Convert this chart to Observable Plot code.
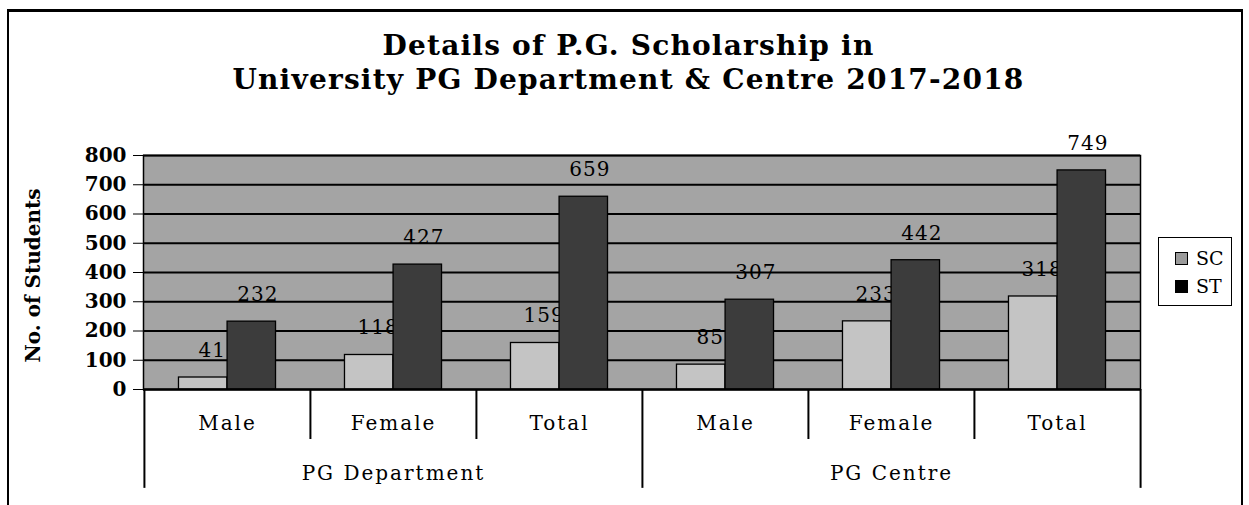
<!DOCTYPE html>
<html>
<head>
<meta charset="utf-8">
<script src="https://cdn.jsdelivr.net/npm/d3@7"></script>
<script src="https://cdn.jsdelivr.net/npm/@observablehq/plot@0.6"></script>
<style>
  html, body { margin: 0; padding: 0; background: #fff; }
  body { width: 1249px; height: 505px; overflow: hidden; position: relative; font-family: "DejaVu Serif", serif; }
  #frame { position: absolute; left: 7px; top: 9px; width: 1232px; height: 530px;
           border-top: 3px solid #000; border-left: 2px solid #000; border-right: 2px solid #000; }
  #title { position: absolute; left: 4px; top: 29px; width: 1249px; text-align: center;
           font: bold 28px/34px "DejaVu Serif", serif; letter-spacing: 1.2px; color: #000; }
  #chart { position: absolute; left: 0; top: 130px; }
  #legend { position: absolute; left: 1158px; top: 237px; width: 72px; height: 67px;
            border: 1.5px solid #000; background: #fff; font: 19px "DejaVu Serif", serif; }
  .item { position: absolute; left: 16px; display: flex; align-items: center; }
  .sw { width: 13px; height: 13px; border: 1px solid #000; box-sizing: border-box; margin-right: 8px; }
  #chart svg .lbl text, #chart svg text.lbl { letter-spacing: 2px; }
  #chart svg .val text, #chart svg text.val { letter-spacing: 1px; }
</style>
</head>
<body>
<div id="frame"></div>
<div id="title">Details of P.G. Scholarship in<br>University PG Department &amp; Centre 2017-2018</div>
<div id="chart"></div>
<div id="legend"></div>
<script>
// ---- data ----
const groups = ["PG Department", "PG Centre"];
const genders = ["Male", "Female", "Total"];
const series = ["SC", "ST"];
const scValues = [41, 118, 159, 85, 233, 318];
const stValues = [232, 427, 659, 307, 442, 749];
const yTicks = [0, 100, 200, 300, 400, 500, 600, 700, 800];
const yTitle = "No. of Students";
const colors = {SC: "#c4c4c4", ST: "#3c3c3c"};

// ---- derived tables ----
const cats = [];
groups.forEach(g => genders.forEach(s => cats.push({group: g, gender: s, key: g + " | " + s})));
const scData = cats.map((c, i) => ({...c, series: "SC", value: scValues[i]}));
const stData = cats.map((c, i) => ({...c, series: "ST", value: stValues[i]}));
const groupStarts = groups.map(g => cats.find(c => c.group === g));
const groupMids = groups.map(g => cats.find(c => c.group === g && c.gender === "Female"));
const innerCats = cats.filter(c => c.gender !== "Male");

const W = 1249, H = 375, ML = 143, MR = 109, MT = 25, MB = 116;
const bw = (W - ML - MR) / cats.length;
const half = bw / 2;
const outer = bw * 0.2075;   // empty space on each side of the bar pair
const barW = half - outer;

const chart = Plot.plot({
  width: W, height: H,
  marginLeft: ML, marginRight: MR, marginTop: MT, marginBottom: MB,
  style: {fontFamily: "DejaVu Serif", fontSize: "20px", fontWeight: "bold", color: "#000", background: "transparent", overflow: "visible"},
  x: {domain: cats.map(c => c.key), padding: 0, axis: null},
  y: {domain: [0, 800], ticks: yTicks, tickSize: 10, tickPadding: 7, label: null, line: false},
  marks: [
    Plot.frame({fill: "#a4a4a4"}),
    Plot.ruleY(yTicks, {stroke: "#000", strokeWidth: 1.8}),
    Plot.text(scData, {x: "key", y: "value", text: d => String(d.value), dx: -barW / 2 + 9, dy: -27, fontWeight: "normal", fontSize: 20, className: "val"}),
    Plot.text(stData, {x: "key", y: "value", text: d => String(d.value), dx: barW / 2 + 6, dy: -27, fontWeight: "normal", fontSize: 20, className: "val"}),
    Plot.barY(scData, {x: "key", y: "value", fill: colors.SC, stroke: "#000", strokeWidth: 1.3, insetLeft: outer, insetRight: half}),
    Plot.barY(stData, {x: "key", y: "value", fill: colors.ST, stroke: "#000", strokeWidth: 1.3, insetLeft: half, insetRight: outer}),
    Plot.frame({stroke: "#000", strokeWidth: 1.5}),
    Plot.ruleX(groupStarts, {x: "key", dx: -half, y1: 0, y2: -338, stroke: "#000", strokeWidth: 2}),
    Plot.ruleX(cats.slice(-1), {x: "key", dx: half, y1: 0, y2: -338, stroke: "#000", strokeWidth: 2}),
    Plot.ruleX(innerCats, {x: "key", dx: -half, y1: 0, y2: -171, stroke: "#000", strokeWidth: 2}),
    Plot.ruleY([0], {stroke: "#000", strokeWidth: 2}),
    Plot.text(cats, {x: "key", y: 0, text: "gender", dy: 34, fontWeight: "normal", fontSize: 20, className: "lbl"}),
    Plot.text(groupMids, {x: "key", y: 0, text: "group", dy: 84, fontWeight: "normal", fontSize: 20, className: "lbl"}),
    Plot.text([yTitle], {frameAnchor: "left", textAnchor: "middle", text: d => d, rotate: -90, dx: -110, dy: 3, fontWeight: "bold", fontSize: 20})
  ]
});
document.getElementById("chart").appendChild(chart);

// legend
const legend = document.getElementById("legend");
series.forEach((s, i) => {
  const it = document.createElement("div");
  it.className = "item";
  it.style.top = (9 + i * 28) + "px";
  const sw = document.createElement("div");
  sw.className = "sw";
  sw.style.background = s === "SC" ? "#9a9a9a" : "#000";
  const t = document.createElement("span");
  t.textContent = s;
  it.appendChild(sw); it.appendChild(t);
  legend.appendChild(it);
});
</script>
</body>
</html>
